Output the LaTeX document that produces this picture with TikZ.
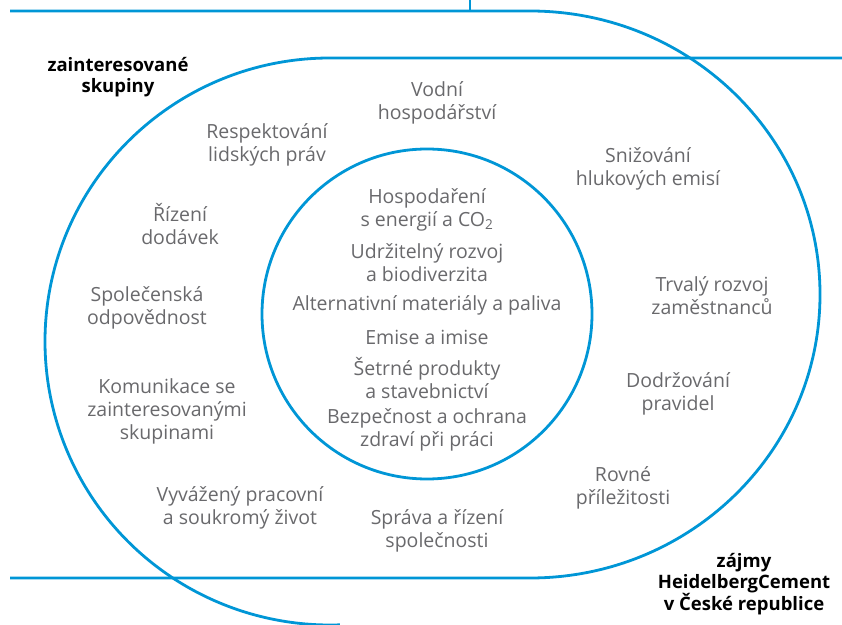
\documentclass[tikz,border=0pt]{standalone}
\usepackage{fontspec}
\setmainfont{Open Sans}
\definecolor{hcblue}{RGB}{0,150,214}
\definecolor{txtgrey}{RGB}{105,105,108}
\begin{document}
\begin{tikzpicture}[x=1pt,y=1pt,
  ring/.style={draw=hcblue,line width=2.8pt},
  lbl/.style={text=txtgrey,align=center,inner sep=0pt,font=\fontsize{19.5}{23}\selectfont},
  head/.style={text=black,align=center,inner sep=0pt,font=\fontsize{18.5}{21}\selectfont\bfseries}]
\useasboundingbox (0,0) rectangle (842,624);
% outer shapes
\draw[ring] (10,613) -- (530,613) arc[start angle=90,end angle=-90,x radius=290,y radius=283.5] -- (10,46);
\draw[ring] (842,566) -- (330,566) arc[start angle=90,end angle=272,x radius=285,y radius=283.5];
\draw[draw=hcblue,line width=1.2pt] (470,624) -- (470,613);
\draw[ring] (427,310) circle[radius=165];
% headings
\node[head] (zs) at (118,546.5) {zainteresované\\skupiny};
\node[head] (hc) at (744,40) {zájmy\\HeidelbergCement\\v České republice};
% outer labels
\node[lbl] (vh) at (437,521.5) {Vodní\\hospodářství};
\node[lbl] (rl) at (267,479.5) {Respektování\\lidských práv};
\node[lbl] (sh) at (648,455.5) {Snižování\\hlukových emisí};
\node[lbl] (rd) at (180,399.5) {Řízení\\dodávek};
\node[lbl] (so) at (147,316.5) {Společenská\\odpovědnost};
\node[lbl] (tr) at (712,328.5) {Trvalý rozvoj\\zaměstnanců};
\node[lbl] (kz) at (167,213) {Komunikace se\\zainteresovanými\\skupinami};
\node[lbl] (dp) at (678,230) {Dodržování\\pravidel};
\node[lbl] (rp) at (623,136.5) {Rovné\\příležitosti};
\node[lbl] (vp) at (240,116.5) {Vyvážený pracovní\\a soukromý život};
\node[lbl] (sr) at (437,93.5) {Správa a řízení\\společnosti};
% inner labels
\node[lbl] (he) at (427,414) {Hospodaření\\s energií a CO\textsubscript{2}};
\node[lbl] (ur) at (427,361) {Udržitelný rozvoj\\a biodiverzita};
\node[lbl] (am) at (427,319) {Alternativní materiály a paliva};
\node[lbl] (ei) at (427,287) {Emise a imise};
\node[lbl] (sp) at (427,246) {Šetrné produkty\\a stavebnictví};
\node[lbl] (bo) at (427,194) {Bezpečnost a ochrana\\zdraví při práci};
\end{tikzpicture}
\end{document}
